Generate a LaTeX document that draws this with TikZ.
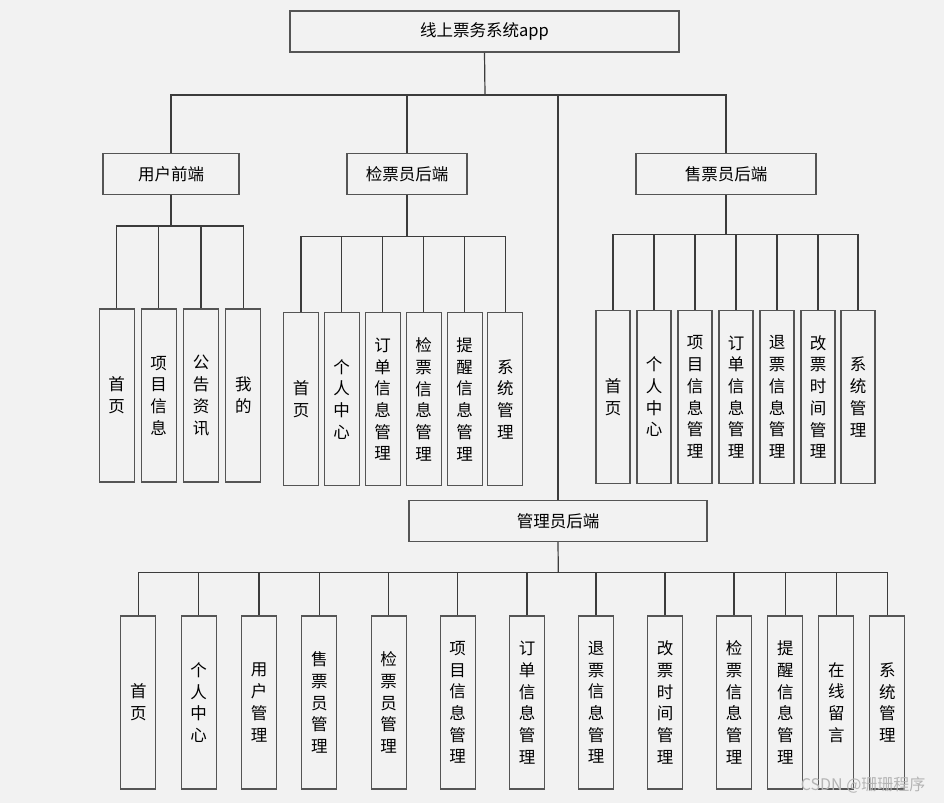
\documentclass[tikz,border=0pt]{standalone}
\usepackage{fontspec}
\setmainfont{Noto Sans CJK SC}
\definecolor{bg}{HTML}{F2F2F2}
\definecolor{edge}{HTML}{555555}
\definecolor{wire}{HTML}{3C3C3C}
\definecolor{wm}{HTML}{B4B4B4}
\begin{document}
\begin{tikzpicture}[x=1pt,y=-1pt,
  box/.style={draw=edge, line width=1.1pt, fill=bg, inner sep=0pt, font=\fontsize{16.5}{21.7}\selectfont},
  topbox/.style={box, minimum height=41pt},
  leaf/.style={box, minimum width=35pt, minimum height=173pt, align=center},
  wirel/.style={draw=wire, line width=1.2pt}]
\fill[bg] (0,0) rectangle (944,803);
\useasboundingbox (0,0) rectangle (944,803);

% level 0 and 1
\node[topbox, minimum width=389pt] (root) at (484.5,31.5) {线上票务系统app};
\node[topbox, minimum width=136pt] (ufe) at (171,174) {用户前端};
\node[topbox, minimum width=120pt] (chk) at (407,174) {检票员后端};
\node[topbox, minimum width=180pt] (sel) at (726,174) {售票员后端};
\node[topbox, minimum width=298pt] (adm) at (558,521) {管理员后端};

\coordinate (b0) at (485,95);
\draw[wirel] (root.south) -- (b0);
\draw[wirel] (ufe.north) |- (b0);
\draw[wirel] (chk.north) |- (b0);
\draw[wirel] (sel.north) |- (b0);
\draw[wirel] (adm.north) |- (b0);

% user front children
\node[leaf] (u1) at (116.7,395.5) {首\\页};
\node[leaf] (u2) at (158.7,395.5) {项\\目\\信\\息};
\node[leaf] (u3) at (201,395.5) {公\\告\\资\\讯};
\node[leaf] (u4) at (243.3,395.5) {我\\的};
\coordinate (ub) at (171,226);
\draw[wirel] (ufe.south) -- (ub);
\foreach \n in {u1,u2,u3,u4} \draw[wirel] (\n.north) |- (ub);

% checker children
\node[leaf] (c1) at (301,399.3) {首\\页};
\node[leaf] (c2) at (341.7,399.3) {个\\人\\中\\心};
\node[leaf] (c3) at (382.7,399.3) {订\\单\\信\\息\\管\\理};
\node[leaf] (c4) at (423.7,399.3) {检\\票\\信\\息\\管\\理};
\node[leaf] (c5) at (464.7,399.3) {提\\醒\\信\\息\\管\\理};
\node[leaf] (c6) at (505.3,399.3) {系\\统\\管\\理};
\coordinate (cb) at (407,236.7);
\draw[wirel] (chk.south) -- (cb);
\foreach \n in {c1,c2,c3,c4,c5,c6} \draw[wirel] (\n.north) |- (cb);

% seller children
\node[leaf, minimum width=34pt] (s1) at (613,397) {首\\页};
\node[leaf, minimum width=34pt] (s2) at (654,397) {个\\人\\中\\心};
\node[leaf, minimum width=34pt] (s3) at (695,397) {项\\目\\信\\息\\管\\理};
\node[leaf, minimum width=34pt] (s4) at (736,397) {订\\单\\信\\息\\管\\理};
\node[leaf, minimum width=34pt] (s5) at (777,397) {退\\票\\信\\息\\管\\理};
\node[leaf, minimum width=34pt] (s6) at (818,397) {改\\票\\时\\间\\管\\理};
\node[leaf, minimum width=34pt] (s7) at (858,397) {系\\统\\管\\理};
\coordinate (sb) at (726,234.3);
\draw[wirel] (sel.south) -- (sb);
\foreach \n in {s1,s2,s3,s4,s5,s6,s7} \draw[wirel] (\n.north) |- (sb);

% admin children
\node[leaf] (a1) at (138.3,702.5) {首\\页};
\node[leaf] (a2) at (198.7,702.5) {个\\人\\中\\心};
\node[leaf] (a3) at (259,702.5) {用\\户\\管\\理};
\node[leaf] (a4) at (319.3,702.5) {售\\票\\员\\管\\理};
\node[leaf] (a5) at (388.7,702.5) {检\\票\\员\\管\\理};
\node[leaf] (a6) at (457.7,702.5) {项\\目\\信\\息\\管\\理};
\node[leaf] (a7) at (527,702.5) {订\\单\\信\\息\\管\\理};
\node[leaf] (a8) at (596,702.5) {退\\票\\信\\息\\管\\理};
\node[leaf] (a9) at (665,702.5) {改\\票\\时\\间\\管\\理};
\node[leaf] (a10) at (734,702.5) {检\\票\\信\\息\\管\\理};
\node[leaf] (a11) at (785.3,702.5) {提\\醒\\信\\息\\管\\理};
\node[leaf] (a12) at (836.3,702.5) {在\\线\\留\\言};
\node[leaf] (a13) at (887.3,702.5) {系\\统\\管\\理};
\coordinate (ab) at (558.3,572.7);
\draw[wirel] (adm.south) -- (ab);
\foreach \n in {a1,a2,a3,a4,a5,a6,a7,a8,a9,a10,a11,a12,a13} \draw[wirel] (\n.north) |- (ab);

% watermark
\node[text=wm, font=\fontsize{16}{18}\selectfont, anchor=east] (wmk) at (929,785) {CSDN @珊珊程序};
\end{tikzpicture}
\end{document}
